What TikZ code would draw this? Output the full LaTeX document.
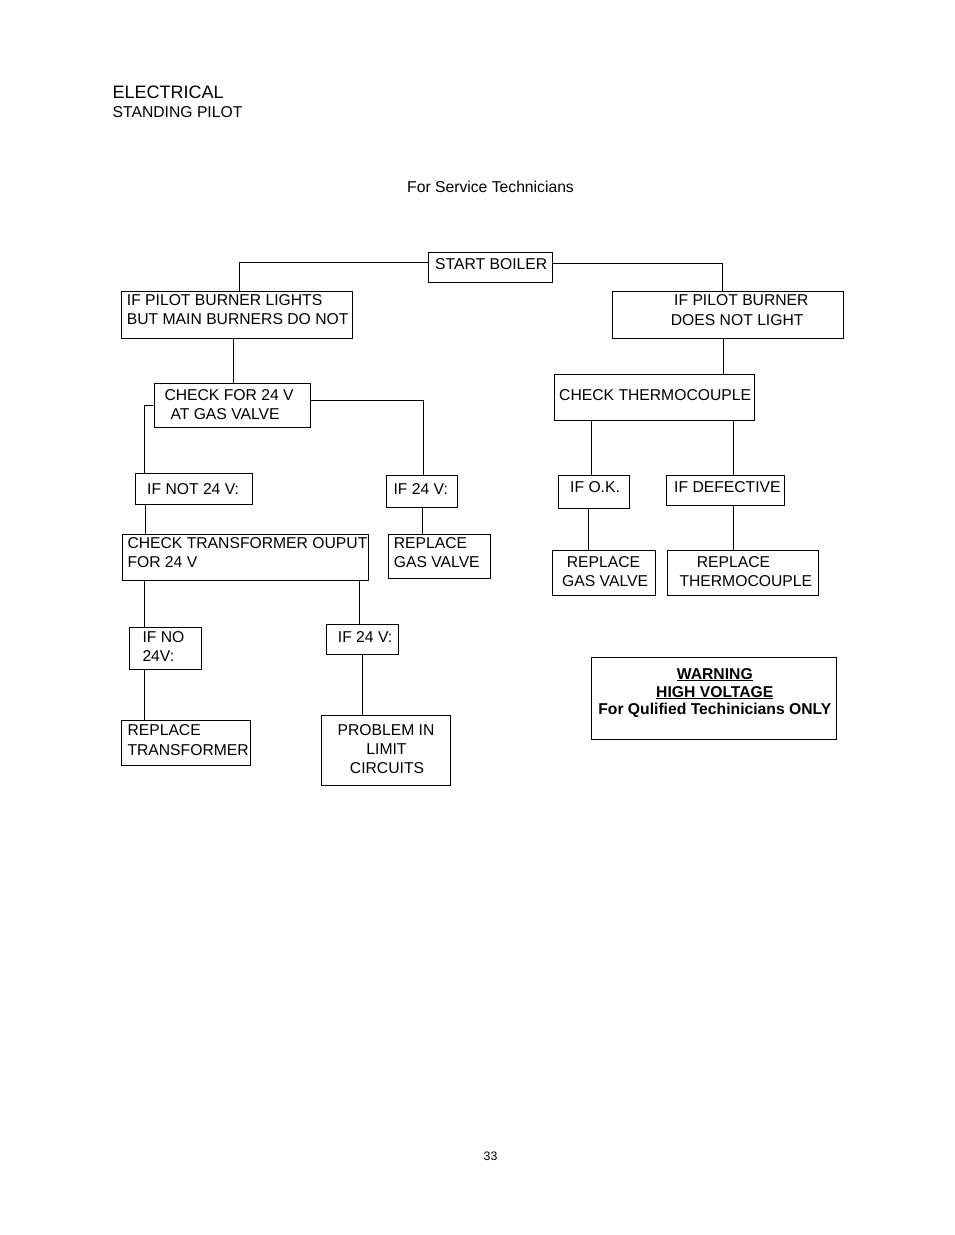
\documentclass[tikz,border=0pt]{standalone}
\usepackage{fontspec}
\setmainfont{Liberation Sans}
\newcommand\myul[1]{\setbox0\hbox{#1}\rlap{\rule[-1.8pt]{\wd0}{1.2pt}}\box0}
\tikzset{
  box/.style={draw, line width=1pt, inner sep=0pt},
  txt/.style={anchor=base west, inner sep=0pt, font=\fontsize{15.7pt}{19pt}\selectfont},
  ctxt/.style={anchor=base, inner sep=0pt, font=\fontsize{15.7pt}{19pt}\selectfont},
  btxt/.style={anchor=base, inner sep=0pt, font=\fontsize{15.7pt}{17pt}\selectfont\bfseries},
  conn/.style={line width=1pt}
}
\begin{document}
\begin{tikzpicture}[x=1pt,y=-1pt]
\useasboundingbox (0,0) rectangle (954,1235);
% header
\node[anchor=base west, inner sep=0pt, font=\fontsize{18pt}{20pt}\selectfont] (h1) at (112.5,98.5) {ELECTRICAL};
\node[txt] (h2) at (112.5,117.8) {STANDING PILOT};
\node[txt] (h3) at (407,192.5) {For Service Technicians};
\node[anchor=base west, inner sep=0pt, font=\fontsize{12.3pt}{14pt}\selectfont] (pg) at (483.5,1160.5) {33};
% boxes
\node[box, minimum width=124pt, minimum height=30pt] (sb) at (490,267) {};
\node[box, minimum width=231pt, minimum height=47pt] (pl) at (236.5,314.5) {};
\node[box, minimum width=231pt, minimum height=47pt] (pn) at (727.8,314.5) {};
\node[box, minimum width=155.7pt, minimum height=44.3pt] (c24) at (232.8,405.2) {};
\node[box, minimum width=200pt, minimum height=46.3pt] (ct) at (654.3,397.8) {};
\node[box, minimum width=117.4pt, minimum height=31pt] (in24) at (194,488.8) {};
\node[box, minimum width=71.4pt, minimum height=31.6pt] (i24a) at (422,491.5) {};
\node[box, minimum width=71pt, minimum height=32.6pt] (iok) at (593.8,492) {};
\node[box, minimum width=118pt, minimum height=29.6pt] (idef) at (725.3,490.5) {};
\node[box, minimum width=246pt, minimum height=46pt] (ctr) at (245.3,557.3) {};
\node[box, minimum width=102pt, minimum height=44pt] (rgv1) at (439.3,556.3) {};
\node[box, minimum width=103.4pt, minimum height=44.6pt] (rgv2) at (604,573) {};
\node[box, minimum width=151pt, minimum height=44.6pt] (rtc) at (742.8,573) {};
\node[box, minimum width=72pt, minimum height=42pt] (ino) at (165.3,648.3) {};
\node[box, minimum width=72pt, minimum height=30pt] (i24b) at (362.7,639.3) {};
\node[box, minimum width=128.6pt, minimum height=44.7pt] (rtr) at (186,742.7) {};
\node[box, minimum width=128.6pt, minimum height=69.7pt] (plc) at (386,750.2) {};
\node[box, minimum width=244.8pt, minimum height=82pt] (warn) at (714.1,698.3) {};
% texts
\node[txt] (t1) at (435,269.5) {START BOILER};
\node[txt] (t2) at (126.7,305.5) {IF PILOT BURNER LIGHTS};
\node[txt] (t3) at (126.7,324.8) {BUT MAIN BURNERS DO NOT};
\node[txt] (t4) at (674,305.3) {IF PILOT BURNER};
\node[txt] (t5) at (670.7,325) {DOES NOT LIGHT};
\node[txt] (t6) at (164.3,400) {CHECK FOR 24 V};
\node[txt] (t7) at (170.3,419.3) {AT GAS VALVE};
\node[txt] (t8) at (559,400) {CHECK THERMOCOUPLE};
\node[txt] (t9) at (147,494) {IF NOT 24 V:};
\node[txt] (t10) at (393.3,494) {IF 24 V:};
\node[txt] (t11) at (570,492.7) {IF O.K.};
\node[txt] (t12) at (674,492.7) {IF DEFECTIVE};
\node[txt] (t13) at (127.3,548.3) {CHECK TRANSFORMER OUPUT};
\node[txt] (t14) at (127.3,567.7) {FOR 24 V};
\node[txt] (t15) at (393.7,548.3) {REPLACE};
\node[txt] (t16) at (393.7,567.7) {GAS VALVE};
\node[txt] (t17) at (566.7,567.7) {REPLACE};
\node[txt] (t18) at (562,586) {GAS VALVE};
\node[txt] (t19) at (696.7,567.7) {REPLACE};
\node[txt] (t20) at (679.3,586) {THERMOCOUPLE};
\node[txt] (t21) at (142.3,642.7) {IF NO};
\node[txt] (t22) at (142.3,661.7) {24V:};
\node[txt] (t23) at (337.7,642.7) {IF 24 V:};
\node[txt] (t24) at (127.3,735.3) {REPLACE};
\node[txt] (t25) at (127.3,755) {TRANSFORMER};
\node[ctxt] (t26) at (386,735.5) {PROBLEM IN};
\node[ctxt] (t27) at (386.5,754.5) {LIMIT};
\node[ctxt] (t28) at (387,773) {CIRCUITS};
\node[btxt] (w1) at (714.8,679.5) {\myul{WARNING}};
\node[btxt] (w2) at (714.8,697) {\myul{HIGH VOLTAGE}};
\node[btxt] (w3) at (714.8,714.5) {For Qulified Techinicians ONLY};
% connectors
\draw[conn] ([yshift=5pt]sb.west) -| ([xshift=2.8pt]pl.north);
\draw[conn] ([yshift=3.7pt]sb.east) -| ([xshift=-5.1pt]pn.north);
\draw[conn] ([xshift=-2.8pt]pl.south) -- ([xshift=-2.8pt]pl.south |- c24.north);
\draw[conn] ([xshift=-1.7pt]c24.west) -| ([xshift=-49.3pt]in24.north);
\draw[conn] ([yshift=4.5pt]c24.east) -| ([xshift=1.3pt]i24a.north);
\draw[conn] ([xshift=-48.7pt]in24.south) -- ([xshift=-48.7pt]in24.south |- ctr.north);
\draw[conn] (i24a.south) -- (i24a.south |- rgv1.north);
\draw[conn] ([xshift=-4.1pt]pn.south) -- ([xshift=-4.1pt]pn.south |- ct.north);
\draw[conn] ([xshift=-2.1pt]iok.north) -- ([xshift=-2.1pt]iok.north |- ct.south);
\draw[conn] ([xshift=8.4pt]idef.north) -- ([xshift=8.4pt]idef.north |- ct.south);
\draw[conn] ([xshift=-5.1pt]iok.south) -- ([xshift=-5.1pt]iok.south |- rgv2.north);
\draw[conn] ([xshift=8.4pt]idef.south) -- ([xshift=8.4pt]idef.south |- rtc.north);
\draw[conn] ([xshift=-20.6pt]ino.north) -- ([xshift=-20.6pt]ino.north |- ctr.south);
\draw[conn] ([xshift=-3.4pt]i24b.north) -- ([xshift=-3.4pt]i24b.north |- ctr.south);
\draw[conn] ([xshift=-20.6pt]ino.south) -- ([xshift=-20.6pt]ino.south |- rtr.north);
\draw[conn] (i24b.south) -- (i24b.south |- plc.north);
\end{tikzpicture}
\end{document}
